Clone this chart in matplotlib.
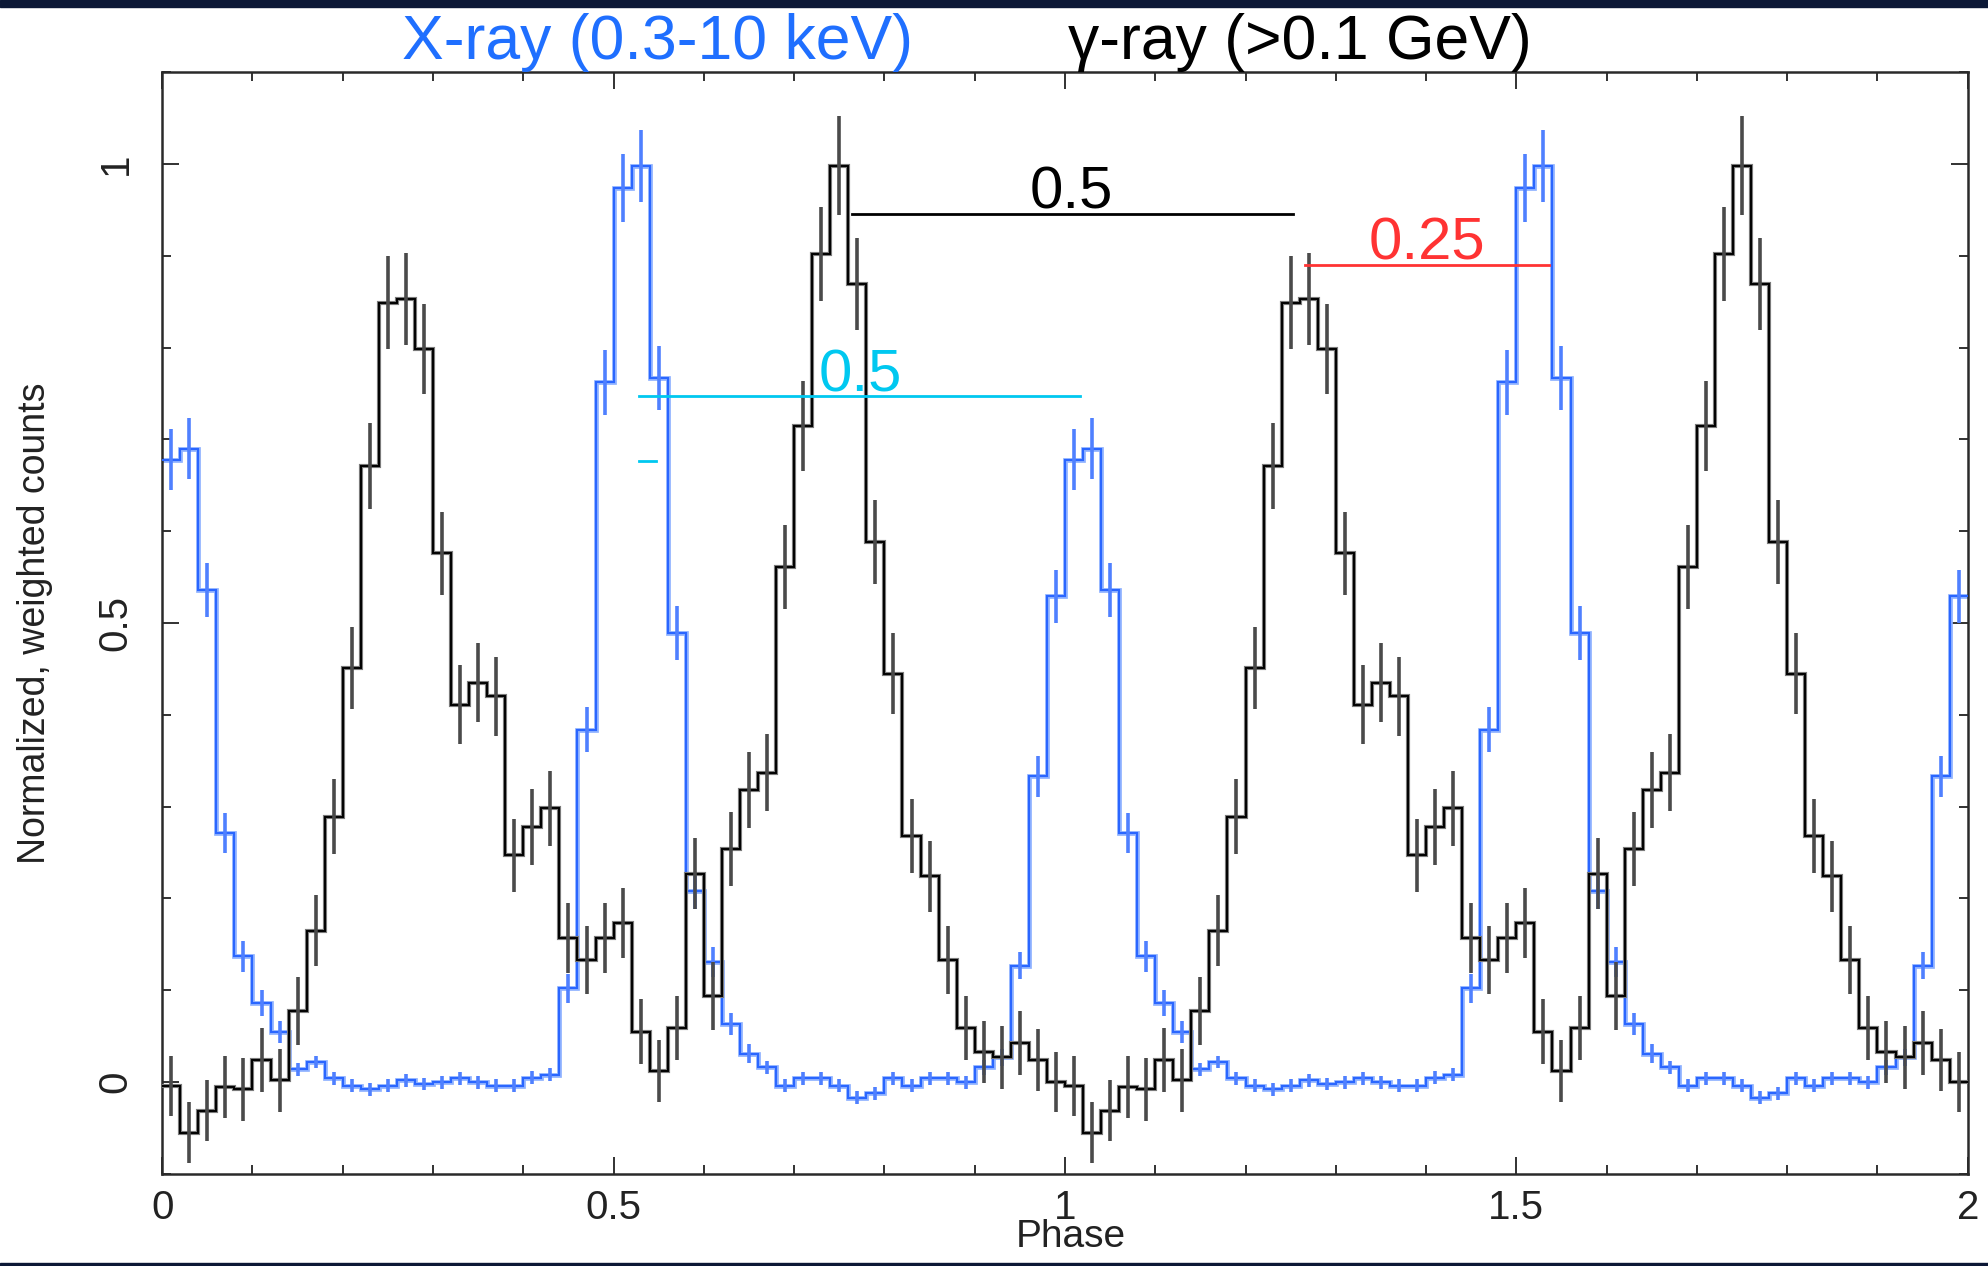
import numpy as np
import matplotlib
matplotlib.use('Agg')
from matplotlib import pyplot as plt
from matplotlib.patches import Rectangle
from matplotlib.ticker import MultipleLocator, FixedLocator

plt.rcParams['font.family'] = ['Liberation Sans', 'DejaVu Sans']

#%% light curves, one cycle of 50 phase bins (repeated twice on the plot)
nbins = 50
xray = [0.678, 0.690, 0.536, 0.271, 0.137, 0.086, 0.055, 0.014, 0.022, 0.004,
        -0.004, -0.008, -0.004, 0.002, -0.002, 0.000, 0.004, 0.000, -0.004, -0.004,
        0.005, 0.008, 0.102, 0.384, 0.762, 0.974, 0.998, 0.767, 0.489, 0.208,
        0.131, 0.063, 0.031, 0.016, -0.004, 0.004, 0.004, -0.004, -0.017, -0.012,
        0.004, -0.004, 0.004, 0.004, 0.000, 0.016, 0.027, 0.127, 0.333, 0.529]
xray_err = [0.033, 0.033, 0.029, 0.022, 0.017, 0.014, 0.012, 0.007, 0.007, 0.007,
            0.007, 0.007, 0.007, 0.007, 0.007, 0.007, 0.007, 0.007, 0.007, 0.007,
            0.007, 0.007, 0.016, 0.025, 0.035, 0.037, 0.039, 0.035, 0.029, 0.020,
            0.016, 0.012, 0.010, 0.007, 0.007, 0.007, 0.007, 0.007, 0.007, 0.007,
            0.007, 0.007, 0.007, 0.007, 0.007, 0.008, 0.009, 0.015, 0.022, 0.029]
gray = [-0.004, -0.055, -0.031, -0.005, -0.008, 0.024, 0.002, 0.077, 0.165, 0.289,
        0.451, 0.671, 0.849, 0.853, 0.798, 0.576, 0.411, 0.435, 0.420, 0.247,
        0.278, 0.298, 0.157, 0.133, 0.157, 0.173, 0.055, 0.012, 0.059, 0.227,
        0.094, 0.254, 0.318, 0.337, 0.561, 0.714, 0.902, 0.998, 0.869, 0.588,
        0.445, 0.268, 0.224, 0.133, 0.059, 0.033, 0.027, 0.043, 0.024, 0.000]
gray_err = [0.033, 0.033, 0.033, 0.034, 0.034, 0.035, 0.034, 0.037, 0.039, 0.041,
            0.045, 0.047, 0.051, 0.050, 0.049, 0.045, 0.043, 0.043, 0.043, 0.040,
            0.041, 0.041, 0.038, 0.037, 0.038, 0.038, 0.035, 0.034, 0.035, 0.039,
            0.037, 0.040, 0.041, 0.042, 0.046, 0.049, 0.051, 0.054, 0.050, 0.046,
            0.044, 0.040, 0.039, 0.037, 0.035, 0.034, 0.034, 0.035, 0.034, 0.033]

# phase separation markers: (x0, x1, y, label, label x, label y, colour)
seps = [(0.764, 1.253, 0.945, '0.5', 1.007, 0.951, 'black'),
        (1.266, 1.536, 0.890, '0.25', 1.401, 0.896, '#ff3333'),
        (0.528, 1.017, 0.747, '0.5', 0.773, 0.752, '#00c8f0')]

#%%
edges = np.linspace(0, 2, 2 * nbins + 1)
centers = 0.5 * (edges[1:] + edges[:-1])
xr = np.tile(xray, 2)
xre = np.tile(xray_err, 2)
gr = np.tile(gray, 2)
gre = np.tile(gray_err, 2)

fig = plt.figure(figsize=(19.88, 12.66), dpi=100)
ax = fig.add_axes([0.0816, 0.0727, 0.9082, 0.8704])

# blue x-ray profile
ax.stairs(xr, edges, color='#8fb2ff', lw=3.4, baseline=None, zorder=2)
ax.stairs(xr, edges, color='#2a66ff', lw=1.5, baseline=None, zorder=3)
ax.errorbar(centers, xr, yerr=xre, fmt='none', ecolor='#4f80ff', elinewidth=2.6, zorder=3)

# black gamma-ray profile
ax.stairs(gr, edges, color='#7a7a7a', lw=3.0, baseline=None, zorder=4)
ax.stairs(gr, edges, color='black', lw=1.4, baseline=None, zorder=5)
ax.errorbar(centers, gr, yerr=gre, fmt='none', ecolor='#4a4a4a', elinewidth=2.6, zorder=5)

for x0, x1, y, lab, tx, ty, c in seps:
    ax.plot([x0, x1], [y, y], color=c, lw=2.0, zorder=6)
    ax.text(tx, ty, lab, color=c, fontsize=43, ha='center', va='baseline', zorder=7)
ax.plot([0.528, 0.547], [0.676, 0.676], color='#00c8f0', lw=2.0, zorder=6)

ax.set_xlim(0, 2)
ax.set_ylim(-0.1, 1.1)
ax.xaxis.set_major_locator(FixedLocator([0, 0.5, 1, 1.5, 2]))
ax.xaxis.set_major_formatter(plt.FuncFormatter(lambda v, p: '%g' % v))
ax.xaxis.set_minor_locator(MultipleLocator(0.1))
ax.yaxis.set_major_locator(FixedLocator([0, 0.5, 1]))
ax.yaxis.set_major_formatter(plt.FuncFormatter(lambda v, p: '%g' % v))
ax.yaxis.set_minor_locator(MultipleLocator(0.1))
ax.tick_params(which='both', direction='in', top=True, right=True, width=1.3, color='#222222')
ax.tick_params(which='major', length=12)
ax.tick_params(which='minor', length=6.5)
ax.tick_params(axis='x', labelsize=29, labelcolor='#222222', pad=11)
ax.tick_params(axis='y', labelsize=29, labelcolor='#222222', pad=20, labelrotation=90)
for lab in ax.get_yticklabels():
    lab.set_va('center')
for s in ax.spines.values():
    s.set_linewidth(1.8)
    s.set_color('#2a2a2a')

ax.set_xlabel('Phase', fontsize=28, color='#222222')
ax.xaxis.set_label_coords(0.503, -0.041)
ax.set_ylabel('Normalized, weighted counts', fontsize=27, color='#222222')
ax.yaxis.set_label_coords(-0.0605, 0.5)

fig.text(0.3305, 0.9668, 'X-ray (0.3-10 keV)', color='#1f6fff', fontsize=45, ha='center', va='center')
fig.text(0.654, 0.9668, '\u03b3-ray (>0.1 GeV)', color='black', fontsize=45, ha='center', va='center')

# slide background strips at top and bottom
fig.patches.append(Rectangle((0, 1 - 7 / 1266), 1, 7 / 1266, transform=fig.transFigure,
                             color='#0c1836', zorder=0))
fig.patches.append(Rectangle((0, 0), 1, 3 / 1266, transform=fig.transFigure,
                             color='#0c1836', zorder=0))

fig.savefig('out.png', dpi=100)
